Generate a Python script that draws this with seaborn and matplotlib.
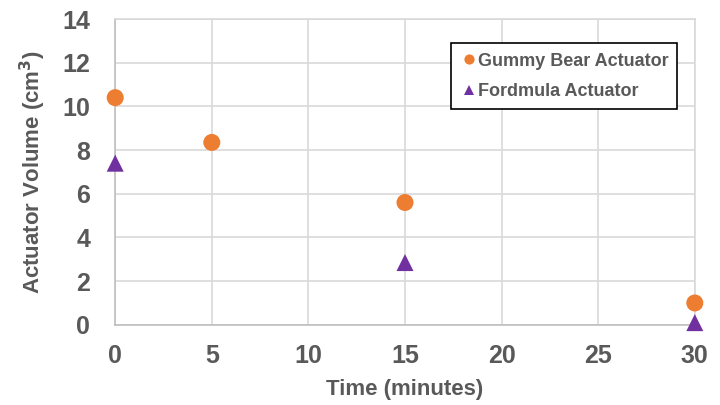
import matplotlib
matplotlib.use("Agg")
import matplotlib.pyplot as plt
import pandas as pd
import seaborn as sns

# Data
gummy_time = [0, 5, 15, 30]
gummy_volume = [10.4, 8.35, 5.6, 1.0]
formula_time = [0, 15, 30]
formula_volume = [7.4, 2.85, 0.1]
series_names = ["Gummy Bear Actuator", "Fordmula Actuator"]

x_ticks = [0, 5, 10, 15, 20, 25, 30]
y_ticks = [0, 2, 4, 6, 8, 10, 12, 14]

text_color = "#595959"
grid_color = "#d9d9d9"


def build_frame():
    g = pd.DataFrame({"Time": gummy_time, "Volume": gummy_volume,
                      "Series": series_names[0]})
    f = pd.DataFrame({"Time": formula_time, "Volume": formula_volume,
                      "Series": series_names[1]})
    return pd.concat([g, f], ignore_index=True)


def create_plot():
    sns.set_style("white")
    plt.rcParams["font.family"] = ["Liberation Sans", "DejaVu Sans"]
    plt.rcParams["font.weight"] = "bold"

    df = build_frame()

    fig = plt.figure(figsize=(7.2, 4.05), dpi=100)
    ax = fig.add_axes([0.160, 0.198, 0.805, 0.755])

    sns.scatterplot(data=df, x="Time", y="Volume", hue="Series", style="Series",
                    palette={series_names[0]: "#ED7D31", series_names[1]: "#7030A0"},
                    markers={series_names[0]: "o", series_names[1]: "^"},
                    s=150, linewidth=0, ax=ax, clip_on=False, zorder=5)

    ax.set_xlim(0, 30)
    ax.set_ylim(0, 14)
    ax.set_xticks(x_ticks)
    ax.set_yticks(y_ticks)
    ax.grid(True, color=grid_color, linewidth=1.2)
    ax.set_axisbelow(True)
    for side in ["top", "right"]:
        ax.spines[side].set_color(grid_color)
        ax.spines[side].set_linewidth(1.2)
    for side in ["left", "bottom"]:
        ax.spines[side].set_color("#bfbfbf")
        ax.spines[side].set_linewidth(1.2)

    ax.tick_params(axis="both", length=0, labelsize=18, labelcolor=text_color)
    ax.tick_params(axis="x", pad=14)
    ax.tick_params(axis="y", pad=18)
    for lbl in ax.get_xticklabels() + ax.get_yticklabels():
        lbl.set_fontweight("bold")

    ax.set_xlabel("Time (minutes)", fontsize=16, fontweight="bold",
                  color=text_color, labelpad=8)
    ax.set_ylabel("Actuator Volume (cm$^3$)", fontsize=16, fontweight="bold",
                  color=text_color, labelpad=10)

    handles, labels = ax.get_legend_handles_labels()
    leg = ax.legend(handles, labels, loc="upper right",
                    bbox_to_anchor=(0.97, 0.92), frameon=True, fancybox=False,
                    edgecolor="black", framealpha=1, fontsize=13,
                    handletextpad=0.0, borderpad=0.5, labelspacing=0.75,
                    markerscale=0.6, handlelength=1.0, borderaxespad=0)
    leg.get_frame().set_linewidth(1.2)
    for t in leg.get_texts():
        t.set_color(text_color)
        t.set_fontweight("bold")

    fig.savefig("out.png", dpi=100)
    plt.close(fig)


if __name__ == "__main__":
    create_plot()
